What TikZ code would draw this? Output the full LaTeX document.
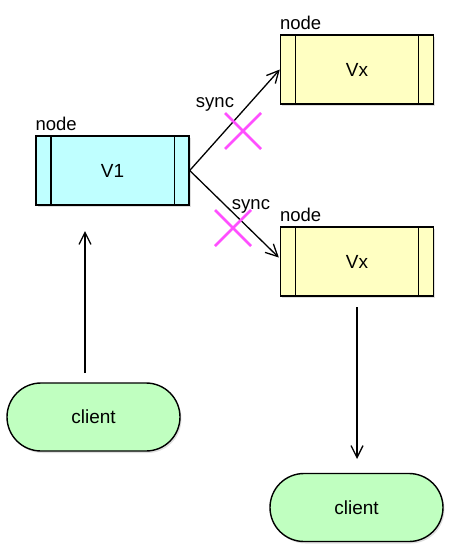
\documentclass[tikz,border=0pt]{standalone}
\usepackage{fontspec}
\setmainfont{Liberation Sans}
\usetikzlibrary{arrows.meta,shadows,calc}
\definecolor{cyanfill}{HTML}{BFFFFF}
\definecolor{yellowfill}{HTML}{FFFFC2}
\definecolor{greenfill}{HTML}{C0FFC0}
\definecolor{crosspink}{HTML}{FF4FFF}
\tikzset{
  box/.style={draw=black, line width=1.4pt, minimum width=153pt, minimum height=69pt, inner sep=0pt, font=\fontsize{19}{21}\selectfont,
    drop shadow={shadow xshift=1.5pt, shadow yshift=-2pt, opacity=0.25, fill=gray}},
  vbox/.style={box, fill=cyanfill},
  ybox/.style={box, fill=yellowfill},
  client/.style={draw=black, line width=1.4pt, fill=greenfill, rounded corners=34pt, minimum width=173pt, minimum height=68pt, inner sep=0pt, font=\fontsize{19}{21}\selectfont,
    drop shadow={shadow xshift=1.5pt, shadow yshift=-2pt, opacity=0.25, fill=gray}},
  lbl/.style={font=\fontsize{18.5}{20}\selectfont, inner sep=0pt},
  conn/.style={line width=1.3pt, -{Straight Barb[length=12pt,width=12pt,line width=1.3pt]}},
  xline/.style={draw=crosspink, line width=2.6pt},
  divider/.style={line width=1.4pt}
}
\begin{document}
\begin{tikzpicture}[x=1pt,y=-1pt]
\useasboundingbox (0,0) rectangle (451,554);
% nodes
\node[vbox] (v1) at (112.5,170.5) {V1};
\node[ybox] (vx1) at (357,69.5) {Vx};
\node[ybox] (vx2) at (357,261.5) {Vx};
\node[client] (c1) at (93.5,417) {client};
\node[client] (c2) at (356.5,507.5) {client};
% dividers
\foreach \n in {v1,vx1,vx2}{
  \draw[divider] ($(\n.north west)+(15.5,0)$) -- ($(\n.south west)+(15.5,0)$);
  \draw[divider] ($(\n.north east)+(-15.5,0)$) -- ($(\n.south east)+(-15.5,0)$);
}
% labels
\node[lbl, anchor=south west] (l1) at ($(v1.north west)+(0,-4)$) {node};
\node[lbl, anchor=south west] (l2) at ($(vx1.north west)+(0,-4)$) {node};
\node[lbl, anchor=south west] (l3) at ($(vx2.north west)+(0,-4)$) {node};
% connectors
\draw[conn] (v1.east) -- (vx1.west);
\draw[conn] (v1.east) -- ($(vx2.west)+(-1,-4)$);
\coordinate (a1s) at (85,373);
\coordinate (a1e) at (85,231);
\draw[conn] (a1s) -- (a1e);
\coordinate (a2s) at (357,307);
\coordinate (a2e) at (357,459);
\draw[conn] (a2s) -- (a2e);
% sync labels
\node[lbl] (s1) at (215,104) {sync};
\node[lbl] (s2) at (251,206) {sync};
% crosses
\coordinate (x1) at (243,131);
\draw[xline] ($(x1)+(-18,-18)$) -- ($(x1)+(18,18)$);
\draw[xline] ($(x1)+(-18,18)$) -- ($(x1)+(18,-18)$);
\coordinate (x2) at (233,228);
\draw[xline] ($(x2)+(-18,-18)$) -- ($(x2)+(18,18)$);
\draw[xline] ($(x2)+(-18,18)$) -- ($(x2)+(18,-18)$);
\end{tikzpicture}
\end{document}
